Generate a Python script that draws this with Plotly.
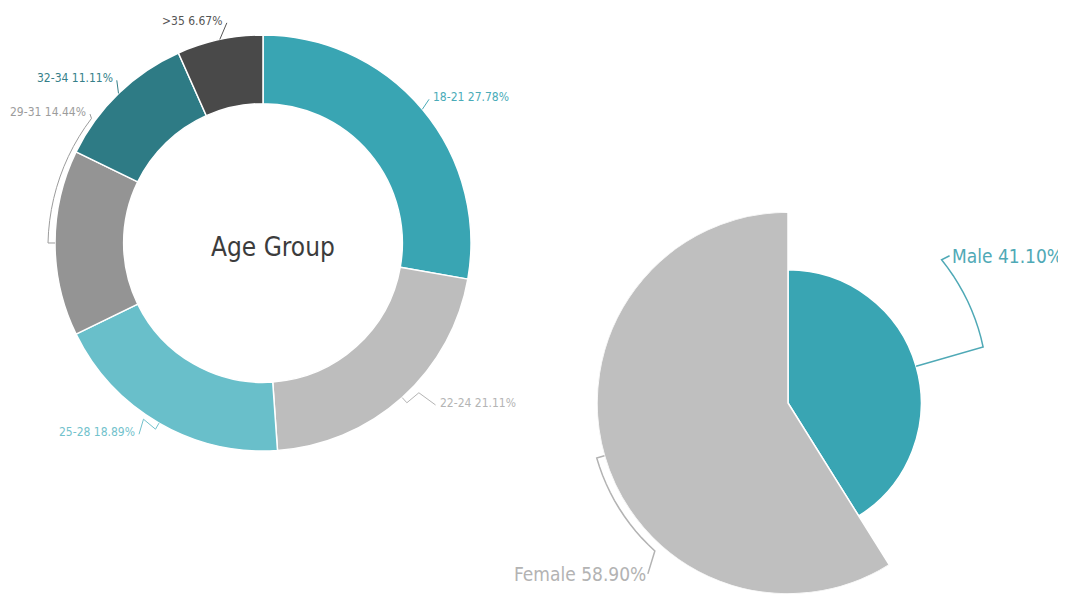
import math
import plotly.graph_objects as go

# ---------------- data ----------------
age_groups = ["18-21", "22-24", "25-28", "29-31", "32-34", ">35"]
age_counts = [25, 19, 17, 13, 10, 6]
genders = ["Male", "Female"]
gender_pct = [41.10, 58.90]
center_title = "Age Group"

# ---------------- style ----------------
W, H = 1066, 594          # window size
OFF = 8                   # default body margin of the html page
FW, FH = W - OFF, H - OFF  # figure size
FONT = "DejaVu Sans Condensed, Liberation Sans Narrow, sans-serif"

age_colors = ["#39A5B3", "#BDBDBD", "#69BFCA", "#949494", "#2E7B85", "#494949"]
age_text_colors = ["#4AABB8", "#B4B4B4", "#72C2CC", "#9C9C9C", "#367F89", "#555555"]
gender_colors = ["#39A5B3", "#BFBFBF"]
gender_text_colors = ["#4FA9B6", "#B3B3B3"]

# donut geometry (window pixels)
D_CX, D_CY, D_R, D_HOLE = 263, 243, 208, 0.67
# rose geometry (window pixels)
R_CX, R_CY, R_R = 788, 403, 191

# label nudges relative to the default point on the label ring (pixels)
LABEL_NUDGE = {
    "18-21": (-2, -3),
    "22-24": (26, -5),
    "25-28": (-15, -3),
    "29-31": (47, -131),
    "32-34": (6, -5),
    ">35": (8, -5),
}


def fx(x):
    return (x - OFF) / FW


def fy(y):
    return 1 - (y - OFF) / FH


def pol(cx, cy, r, ang):
    a = math.radians(ang)
    return cx + r * math.sin(a), cy - r * math.cos(a)


def path(points):
    return "M " + " L ".join(f"{fx(x):.5f},{fy(y):.5f}" for x, y in points)


fig = go.Figure()

# ---------------- donut ----------------
fig.add_trace(go.Pie(
    labels=age_groups, values=age_counts, hole=D_HOLE, sort=False,
    direction="clockwise", rotation=0, textinfo="none", showlegend=False,
    marker=dict(colors=age_colors, line=dict(color="white", width=1.5)),
    domain=dict(x=[fx(D_CX - D_R), fx(D_CX + D_R)],
                y=[fy(D_CY + D_R), fy(D_CY - D_R)]),
))

annotations = []
shapes = []
total = sum(age_counts)
cum = 0
for lab, cnt, tcol in zip(age_groups, age_counts, age_text_colors):
    frac = cnt / total
    mid = (cum + frac / 2) * 360
    cum += frac
    dx, dy = LABEL_NUDGE[lab]
    bx, by = pol(D_CX, D_CY, D_R + 14, mid)
    tx, ty = bx + dx, by + dy
    left = math.sin(math.radians(mid)) > 0
    E = pol(D_CX, D_CY, D_R, mid)
    M1 = pol(D_CX, D_CY, D_R + 7, mid)
    end = (tx - 2, ty + 2) if left else (tx + 2, ty + 2)
    if lab == "29-31":
        arc = [pol(D_CX, D_CY, D_R + 7 - 3 * (a - 270) / 36, a) for a in range(270, 307, 3)]
        pts = [E] + arc + [end]
    elif lab in ("22-24", "25-28"):
        sx = 1 if left else -1
        peak = (M1[0] + sx * 12, M1[1] - 10)
        pts = [E, M1, peak, end]
    else:
        pts = [E, end]
    shapes.append(dict(type="path", xref="paper", yref="paper", path=path(pts),
                       line=dict(color=tcol, width=1)))
    annotations.append(dict(
        x=fx(tx), y=fy(ty), xref="paper", yref="paper", showarrow=False,
        xanchor="left" if left else "right", yanchor="middle",
        text=f"{lab} {frac * 100:.2f}%", font=dict(family=FONT, size=12, color=tcol)))

annotations.append(dict(
    x=fx(D_CX + 10), y=fy(D_CY + 4), xref="paper", yref="paper", showarrow=False,
    xanchor="center", yanchor="middle",
    text=center_title, font=dict(family=FONT, size=26, color="#3C3C3C")))

# ---------------- rose (gender) ----------------
widths = [p / 100 * 360 for p in gender_pct]
thetas = []
start = 0
for w in widths:
    thetas.append(start + w / 2)
    start += w

fig.add_trace(go.Barpolar(
    r=gender_pct, theta=thetas, width=widths, showlegend=False,
    marker=dict(color=gender_colors, line=dict(color="white", width=1.5)),
    text=genders, hoverinfo="text",
))

rmax = max(gender_pct)
# male label
m_mid = thetas[0]
m_r = R_R * gender_pct[0] / rmax
E = pol(R_CX, R_CY, m_r, m_mid)
B = pol(R_CX, R_CY, R_R + 12, m_mid)
arc = [pol(R_CX, R_CY, R_R + 12 + 7 * (m_mid - a) / (m_mid - 47), a)
       for a in [m_mid - k * (m_mid - 47) / 10 for k in range(11)]]
mt = (arc[-1][0] + 8, arc[-1][1] - 4)
shapes.append(dict(type="path", xref="paper", yref="paper",
                   path=path([E, B] + arc + [mt]),
                   line=dict(color=gender_text_colors[0], width=1.5)))
annotations.append(dict(
    x=fx(mt[0]), y=fy(mt[1]), xref="paper", yref="paper", showarrow=False,
    xanchor="left", yanchor="middle",
    text=f"{genders[0]} {gender_pct[0]:.2f}%",
    font=dict(family=FONT, size=19, color=gender_text_colors[0])))

# female label
f_mid = thetas[1]
E = pol(R_CX, R_CY, R_R, f_mid)
arc = [pol(R_CX, R_CY, R_R + 8, a) for a in [f_mid - k * (f_mid - 222) / 12 for k in range(13)]]
ft = (arc[-1][0] - 7, arc[-1][1] + 23)
shapes.append(dict(type="path", xref="paper", yref="paper",
                   path=path([E] + arc + [ft]),
                   line=dict(color=gender_text_colors[1], width=1.5)))
annotations.append(dict(
    x=fx(ft[0]), y=fy(ft[1]), xref="paper", yref="paper", showarrow=False,
    xanchor="right", yanchor="middle",
    text=f"{genders[1]} {gender_pct[1]:.2f}%",
    font=dict(family=FONT, size=19, color=gender_text_colors[1])))

fig.update_layout(
    width=FW, height=FH, margin=dict(l=0, r=0, t=0, b=0),
    paper_bgcolor="white", plot_bgcolor="white",
    polar=dict(
        domain=dict(x=[fx(R_CX - R_R), fx(R_CX + R_R)], y=[fy(R_CY + R_R), fy(R_CY - R_R)]),
        bgcolor="rgba(0,0,0,0)",
        angularaxis=dict(direction="clockwise", rotation=90, visible=False, showgrid=False),
        radialaxis=dict(visible=False, range=[0, rmax], showgrid=False),
    ),
    annotations=annotations, shapes=shapes,
)

fig.write_html("out.html")
